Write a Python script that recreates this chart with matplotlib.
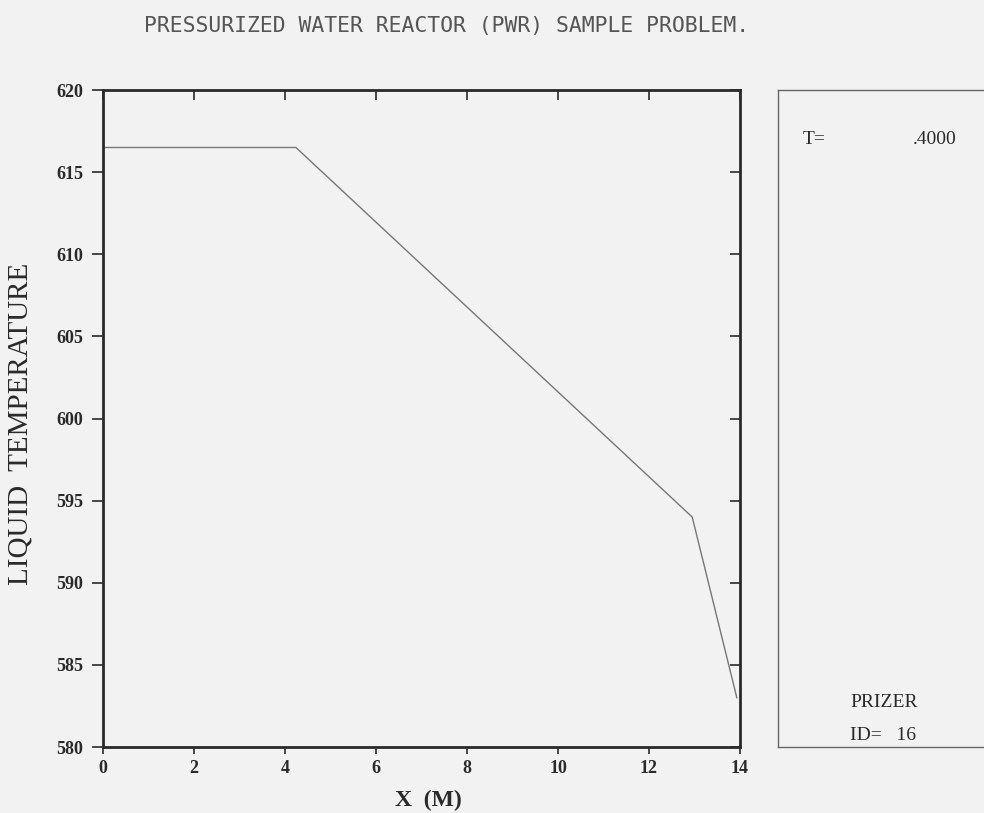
import matplotlib
matplotlib.use("Agg")
import matplotlib.pyplot as plt

# Data
x_pos = [0.0, 4.24, 12.95, 13.93]
liq_temp = [616.5, 616.5, 594.0, 583.0]
x_ticks = [0, 2, 4, 6, 8, 10, 12, 14]
y_ticks = [580, 585, 590, 595, 600, 605, 610, 615, 620]

title = "PRESSURIZED WATER REACTOR (PWR) SAMPLE PROBLEM."
time_label = "T="
time_value = ".4000"
comp_name = "PRIZER"
comp_id = "ID=   16"

bg = "#f2f2f2"
ink = "#2a2a2a"
serif = ["Liberation Serif", "DejaVu Serif"]

fig = plt.figure(figsize=(9.84, 8.13), dpi=100, facecolor=bg)

ax = fig.add_axes([103/984, 1-747/813, (740-103)/984, (747-90)/813])
ax.set_facecolor(bg)
ax.plot(x_pos, liq_temp, color="#777777", lw=1.0)
ax.set_xlim(0, 14)
ax.set_ylim(580, 620)
ax.set_xticks(x_ticks)
ax.set_yticks(y_ticks)
ax.set_xticklabels([str(v) for v in x_ticks], fontfamily=serif, fontsize=13,
                   fontweight="bold", color=ink)
ax.set_yticklabels([str(v) for v in y_ticks], fontfamily=serif, fontsize=13,
                   fontweight="bold", color=ink)
for s in ax.spines.values():
    s.set_color(ink)
    s.set_linewidth(2.0)
ax.tick_params(axis="x", direction="out", length=5, width=1.2, color=ink, pad=4)
ax.tick_params(axis="y", direction="out", length=8, width=1.2, color=ink, pad=6)

sx = ax.secondary_xaxis("top")
sx.set_xticks(x_ticks)
sx.tick_params(direction="in", length=7, width=1.2, color=ink, labeltop=False)
sx.spines["top"].set_visible(False)
sy = ax.secondary_yaxis("right")
sy.set_yticks(y_ticks)
sy.tick_params(direction="in", length=7, width=1.2, color=ink, labelright=False)
sy.spines["right"].set_visible(False)

ax.set_xlabel("X  (M)", fontfamily=serif, fontsize=17, fontweight="bold", color=ink)
ax.xaxis.set_label_coords((428-103)/637, -(790-747)/657)
ax.set_ylabel("LIQUID  TEMPERATURE", fontfamily=serif, fontsize=21, color=ink)
ax.yaxis.set_label_coords((34-103)/637, (747-424)/657)

fig.text(447/984, 1-26/813, title, ha="center", va="center",
         fontfamily=["DejaVu Sans Mono"], fontsize=15.4, color="#555555")

# Right info panel
ax2 = fig.add_axes([778/984, 1-747/813, 0.24, (747-90)/813])
ax2.set_facecolor(bg)
ax2.set_xticks([])
ax2.set_yticks([])
for s in ax2.spines.values():
    s.set_color("#666666")
    s.set_linewidth(1.0)
fig.text(803/984, 1-140/813, time_label, fontfamily=serif, fontsize=14, color=ink, va="center")
fig.text(957/984, 1-140/813, time_value, fontfamily=serif, fontsize=14, color=ink, va="center", ha="right")
fig.text(850/984, 1-702/813, comp_name, fontfamily=serif, fontsize=14, color=ink, va="center")
fig.text(850/984, 1-735/813, comp_id, fontfamily=serif, fontsize=14, color=ink, va="center")

fig.savefig("out.png", dpi=100, facecolor=bg)
